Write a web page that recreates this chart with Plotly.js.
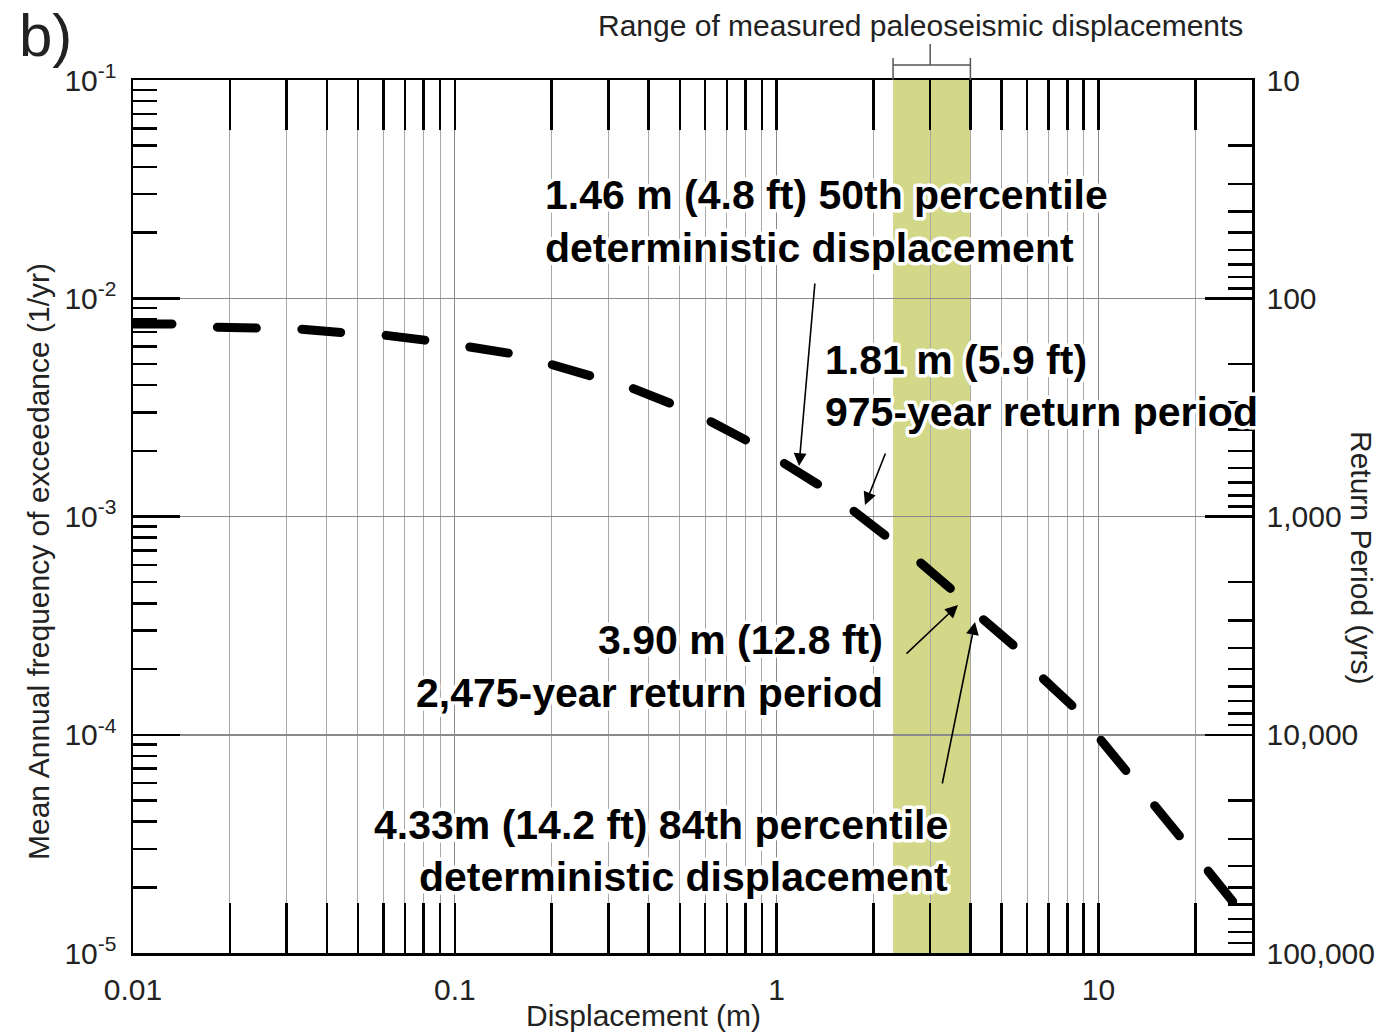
<!DOCTYPE html>
<html>
<head>
<meta charset="utf-8">
<script src="https://cdn.plot.ly/plotly-3.0.1.min.js"></script>
<style>
  body { margin: 0; background: #fff; }
  .scatterlayer .js-line { stroke-linecap: round; }
  .annotation-text { paint-order: stroke; stroke: #ffffff; stroke-width: 7px; stroke-linejoin: round; }
</style>
</head>
<body>
<div id="chart" style="width:1391px;height:1033px;"></div>
<script>
// Hazard curve
const displacement = [0.01, 0.0138, 0.0177, 0.0254, 0.0325, 0.0462, 0.0597, 0.0849, 0.110, 0.153,
  0.197, 0.276, 0.355, 0.482, 0.611, 0.836, 1.04, 1.38, 1.72, 2.24,
  2.78, 3.57, 4.33, 5.56, 6.70, 8.42, 10.07, 12.5, 15.1, 18.2, 21.8, 26.4];
const frequency = [7.62e-3, 7.62e-3, 7.38e-3, 7.31e-3, 7.23e-3, 6.93e-3, 6.79e-3, 6.37e-3, 6.04e-3, 5.55e-3,
  5.00e-3, 4.36e-3, 3.88e-3, 3.24e-3, 2.77e-3, 2.17e-3, 1.78e-3, 1.37e-3, 1.07e-3, 7.97e-4,
  6.19e-4, 4.51e-4, 3.43e-4, 2.50e-4, 1.82e-4, 1.33e-4, 9.66e-5, 6.68e-5, 4.77e-5, 3.40e-5, 2.40e-5, 1.69e-5];

const xTickVals = [0.01, 0.1, 1, 10];
const xTickText = ['0.01', '0.1', '1', '10'];
const yTickVals = [1e-5, 1e-4, 1e-3, 1e-2, 1e-1];
const yTickText = ['10<sup>-5</sup>', '10<sup>-4</sup>', '10<sup>-3</sup>', '10<sup>-2</sup>', '10<sup>-1</sup>'];
const rpTickVals = [10, 100, 1000, 10000, 100000];
const rpTickText = ['10', '100', '1,000', '10,000', '100,000'];
const xRange = [0.01, 30];
const yRange = [1e-5, 1e-1];
const paleoRange = [2.3, 4.0];
const paleoMid = 3.0;

function minorTicks(decades, maxVal) {
  const out = [];
  decades.forEach(d => { for (let k = 2; k <= 9; k++) { const v = k * d; if (v <= maxVal) out.push(v); } });
  return out;
}
const xMinor = minorTicks(xTickVals, xRange[1]);
const yMinor = minorTicks(yTickVals.slice(0, 4), yRange[1]);
const rpMinor = minorTicks(rpTickVals.slice(0, 4), 100000);
const returnPeriod = frequency.map(f => 1 / f);

const FONT = "'Liberation Sans', Arial, sans-serif";

const traces = [
  {
    x: displacement, y: frequency, type: 'scatter', mode: 'lines',
    line: { color: '#000', width: 9, dash: '39px,45.5px' },
    hoverinfo: 'skip', showlegend: false
  },
  {
    x: displacement, y: returnPeriod, type: 'scatter', mode: 'lines', yaxis: 'y2',
    line: { color: 'rgba(0,0,0,0)', width: 0 }, opacity: 0,
    hoverinfo: 'skip', showlegend: false
  }
];

const tickFont = { family: FONT, size: 30, color: '#222' };
const W = 1391, H = 1033, L = 133, R = 1252, T = 80, B = 953;
const px = x => (x - L) / (R - L);
const py = y => (B - y) / (B - T);

const bigFont = { family: FONT, size: 41, color: '#000', weight: 'bold' };
const labelFont = { family: FONT, size: 30, color: '#222' };
function textAnn(text, x, y, anchor, font) {
  return { text: text, xref: 'paper', yref: 'paper', x: px(x), y: py(y), xanchor: anchor, yanchor: 'middle',
    showarrow: false, font: font || bigFont };
}
function arrowAnn(tipX, tipY, tailX, tailY) {
  return { text: '', xref: 'paper', yref: 'paper', x: px(tipX), y: py(tipY), ax: tailX - tipX, ay: tailY - tipY,
    showarrow: true, arrowhead: 2, arrowsize: 1.6, arrowwidth: 1.6, arrowcolor: '#000', standoff: 0 };
}

const annotations = [
  textAnn('1.46 m (4.8 ft) 50th percentile', 543, 195, 'left'),
  textAnn('deterministic displacement', 543, 248, 'left'),
  textAnn('1.81 m (5.9 ft)', 823, 360, 'left'),
  textAnn('975-year return period', 823, 412, 'left'),
  textAnn('3.90 m (12.8 ft)', 885, 640, 'right'),
  textAnn('2,475-year return period', 885, 693, 'right'),
  textAnn('4.33m (14.2 ft) 84th percentile', 950, 825, 'right'),
  textAnn('deterministic displacement', 950, 877, 'right'),
  arrowAnn(799, 466, 815, 282),
  arrowAnn(865, 505, 886, 452),
  arrowAnn(958, 605, 905, 655),
  arrowAnn(975, 622, 942, 785),
  textAnn('Displacement (m)', 643, 1015, 'center', labelFont),
  Object.assign(textAnn('Mean Annual frequency of exceedance (1/yr)', 38, 562, 'center', labelFont), { textangle: -90 }),
  Object.assign(textAnn('Return Period (yrs)', 1362, 557, 'center', labelFont), { textangle: 90 }),
  textAnn('Range of measured paleoseismic displacements', 920, 25, 'center', labelFont),
  textAnn('b)', 45, 36, 'center', { family: FONT, size: 60, color: '#222' })
];

const bracketColor = '#555';
const shapes = [
  { type: 'rect', xref: 'x', yref: 'paper', x0: paleoRange[0], x1: paleoRange[1], y0: 0, y1: 1,
    fillcolor: '#d2d888', line: { width: 0 }, layer: 'below' },
  { type: 'line', xref: 'x', yref: 'paper', x0: paleoRange[0], x1: paleoRange[1], y0: py(65), y1: py(65),
    line: { color: bracketColor, width: 1.5 } },
  { type: 'line', xref: 'x', yref: 'paper', x0: paleoRange[0], x1: paleoRange[0], y0: 1, y1: py(58),
    line: { color: bracketColor, width: 1.5 } },
  { type: 'line', xref: 'x', yref: 'paper', x0: paleoRange[1], x1: paleoRange[1], y0: 1, y1: py(58),
    line: { color: bracketColor, width: 1.5 } },
  { type: 'line', xref: 'x', yref: 'paper', x0: paleoMid, x1: paleoMid, y0: py(65), y1: py(44),
    line: { color: bracketColor, width: 1.5 } }
];

const layout = {
  width: W, height: H,
  margin: { l: L, r: W - R, t: T, b: H - B, pad: 0 },
  paper_bgcolor: '#fff', plot_bgcolor: 'rgba(0,0,0,0)',
  showlegend: false,
  xaxis: {
    type: 'log', range: [Math.log10(xRange[0]), Math.log10(xRange[1])],
    tickmode: 'array', tickvals: xTickVals, ticktext: xTickText,
    ticks: 'inside', ticklen: 50, tickwidth: 2.5, tickcolor: '#000',
    showline: true, linecolor: '#000', linewidth: 2.5, mirror: 'allticks',
    showgrid: true, gridcolor: '#8a8a8a', gridwidth: 1.2,
    tickfont: tickFont, ticklabelstandoff: 8, zeroline: false,
    minor: { tickmode: 'array', tickvals: xMinor, ticks: 'inside', ticklen: 26, tickwidth: 2.5, tickcolor: '#000',
      showgrid: true, gridcolor: '#a8a8a8', gridwidth: 1 }
  },
  yaxis: {
    type: 'log', range: [Math.log10(yRange[0]), Math.log10(yRange[1])],
    tickmode: 'array', tickvals: yTickVals, ticktext: yTickText,
    ticks: 'inside', ticklen: 47, tickwidth: 2.5, tickcolor: '#000',
    showline: true, linecolor: '#000', linewidth: 2.5, mirror: false,
    showgrid: true, gridcolor: '#8a8a8a', gridwidth: 1.5,
    tickfont: tickFont, ticklabelstandoff: 8, zeroline: false,
    minor: { tickmode: 'array', tickvals: yMinor, ticks: 'inside', ticklen: 24, tickwidth: 2.5, tickcolor: '#000',
      showgrid: false }
  },
  yaxis2: {
    type: 'log', overlaying: 'y', side: 'right', range: [5, 1],
    tickmode: 'array', tickvals: rpTickVals, ticktext: rpTickText,
    ticks: 'inside', ticklen: 47, tickwidth: 2.5, tickcolor: '#000',
    showline: true, linecolor: '#000', linewidth: 2.5,
    showgrid: false, zeroline: false,
    tickfont: tickFont, ticklabelstandoff: 6,
    minor: { tickmode: 'array', tickvals: rpMinor, ticks: 'inside', ticklen: 24, tickwidth: 2.5, tickcolor: '#000',
      showgrid: false }
  },
  shapes: shapes,
  annotations: annotations
};

Plotly.newPlot('chart', traces, layout, { displayModeBar: false, staticPlot: true });
</script>
</body>
</html>
